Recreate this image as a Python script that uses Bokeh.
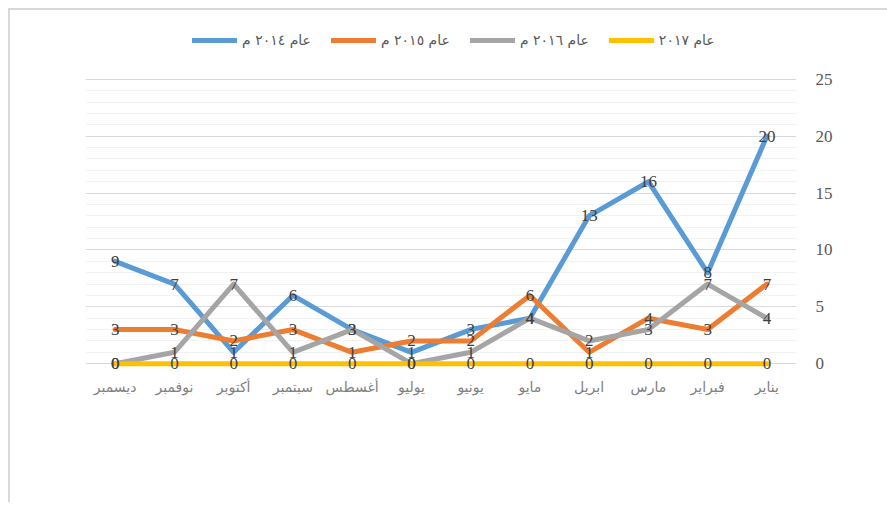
from bokeh.plotting import figure
from bokeh.models import ColumnDataSource, Range1d, FactorRange, FixedTicker, Legend, LegendItem
from bokeh.layouts import column
from bokeh.core.properties import value
from bokeh.embed import file_html
from bokeh.resources import INLINE

months = ["يناير", "فبراير", "مارس", "ابريل", "مايو", "يونيو",
          "يوليو", "أغسطس", "سبتمبر", "أكتوبر", "نوفمبر", "ديسمبر"]
s2014 = [20, 8, 16, 13, 4, 3, 1, 3, 6, 1, 7, 9]
s2015 = [7, 3, 4, 1, 6, 2, 2, 1, 3, 2, 3, 3]
s2016 = [4, 7, 3, 2, 4, 1, 0, 3, 1, 7, 1, 0]
s2017 = [0, 0, 0, 0, 0, 0, 0, 0, 0, 0, 0, 0]
series_names = ["عام ٢٠١٤ م", "عام ٢٠١٥ م", "عام ٢٠١٦ م", "عام ٢٠١٧"]
series_values = [s2014, s2015, s2016, s2017]
colors = ["#5B9BD5", "#ED7D31", "#A5A5A5", "#FFC000"]
y_ticks = [0, 5, 10, 15, 20, 25]
minor_ticks = [t for t in range(y_ticks[0], y_ticks[-1] + 1) if t not in y_ticks]

p = figure(width=877, height=492,
           x_range=FactorRange(factors=months[::-1]),
           y_range=Range1d(-0.6, 30),
           y_axis_location="right",
           output_backend="svg", toolbar_location=None,
           min_border_left=75, min_border_right=91,
           min_border_top=12, min_border_bottom=132)
p.outline_line_color = None
p.xgrid.visible = False
p.yaxis.ticker = FixedTicker(ticks=y_ticks, minor_ticks=minor_ticks)
p.ygrid.grid_line_color = "#d9d9d9"
p.ygrid.minor_grid_line_color = "#f2f2f2"

for ax in (p.xaxis[0], p.yaxis[0]):
    ax.axis_line_color = None
    ax.major_tick_line_color = None
    ax.minor_tick_line_color = None
    ax.major_label_text_color = "#595959"

p.yaxis.major_label_text_font = "Liberation Serif"
p.yaxis.major_label_text_font_size = "17px"
p.yaxis.major_label_standoff = 13
p.xaxis.major_label_text_font = "DejaVu Sans"
p.xaxis.major_label_text_font_size = "14px"
p.xaxis.major_label_text_color = "#7f7f7f"
p.xaxis.major_label_standoff = 2

renderers = []
sources = []
for name, vals, col in zip(series_names, series_values, colors):
    src = ColumnDataSource(dict(x=months, y=vals, lbl=[str(v) for v in vals]))
    r = p.line("x", "y", source=src, line_color=col, line_width=5,
               line_join="round", line_cap="round")
    renderers.append(r)
    sources.append(src)

for src in sources:
    p.text("x", "y", text="lbl", source=src, text_align="center",
           text_baseline="middle", text_font=value("Liberation Serif"),
           text_font_size="17px", text_color="#404040")

legend = Legend(items=[LegendItem(label=n, renderers=[r]) for n, r in zip(series_names, renderers)],
                orientation="horizontal", location=(107, 322),
                border_line_color=None, background_fill_alpha=0,
                label_text_font="DejaVu Sans",
                label_text_font_size="14px", label_text_color="#595959",
                glyph_width=45, glyph_height=12, label_standoff=5,
                spacing=20, margin=0, padding=10)
p.add_layout(legend)

layout = column(p, styles={"border-left": "2px solid #d9d9d9",
                           "border-top": "2px solid #d9d9d9",
                           "margin-left": "8px", "margin-top": "8px"})

open("out.html", "w").write(file_html(layout, INLINE))
